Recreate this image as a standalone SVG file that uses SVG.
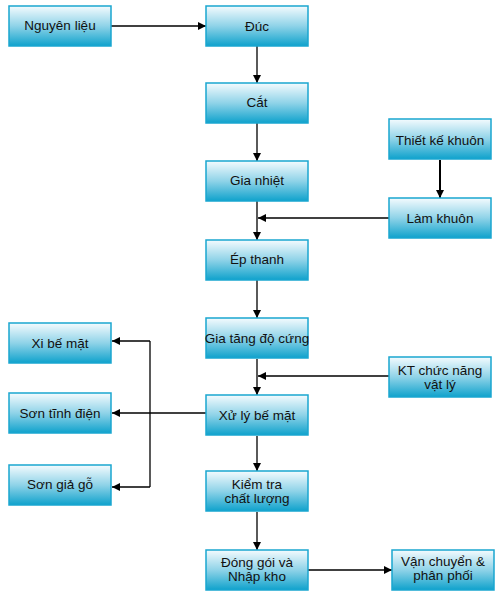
<svg xmlns="http://www.w3.org/2000/svg" width="500" height="602" viewBox="0 0 500 602">
<defs>
<linearGradient id="g" x1="0" y1="0" x2="0" y2="1">
<stop offset="0" stop-color="#f4fbfe"/>
<stop offset="0.5" stop-color="#8fd3e8"/>
<stop offset="1" stop-color="#0fa2cc"/>
</linearGradient>
<marker id="a" viewBox="0 0 8 8" refX="8" refY="4" markerWidth="8" markerHeight="8" markerUnits="userSpaceOnUse" orient="auto">
<path d="M0,0 L8,4 L0,8 Z" fill="#000"/>
</marker>
</defs>
<style>
.b{fill:url(#g);stroke:#1aa6d0;stroke-width:1.5}
.t{font-family:"Liberation Sans",Arial,sans-serif;font-size:13.5px;fill:#111;text-anchor:middle}
.c{stroke:#000;stroke-width:1.3;fill:none;marker-end:url(#a)}
.l{stroke:#000;stroke-width:1.3;fill:none}
</style>
<rect width="500" height="602" fill="#fff"/>
<g id="connectors">
<path class="c" d="M111,26 H206"/>
<path class="c" d="M257,46 V83"/>
<path class="c" d="M257,123 V161"/>
<path class="c" d="M257,201 V240"/>
<path class="c" d="M389,218 H258"/>
<path class="c" d="M440,160 V198" style="stroke-width:2"/>
<path class="c" d="M257,280 V318"/>
<path class="c" d="M257,359 V395"/>
<path class="c" d="M389,376 H258"/>
<path class="c" d="M257,436 V471"/>
<path class="c" d="M257,512 V550"/>
<path class="c" d="M308,570 H392"/>
<path class="c" d="M206,413 H112"/>
<path class="l" d="M150,341 V487"/>
<path class="c" d="M150,341 H112"/>
<path class="c" d="M150,487 H112"/>
</g>
<g id="n1"><rect class="b" x="9" y="6" width="102" height="40"/><text class="t" x="60" y="30">Nguyên liệu</text></g>
<g id="n2"><rect class="b" x="206" y="6" width="102" height="40"/><text class="t" x="257" y="31">Đúc</text></g>
<g id="n3"><rect class="b" x="206" y="83" width="102" height="40"/><text class="t" x="257" y="107">Cắt</text></g>
<g id="n4"><rect class="b" x="206" y="161" width="102" height="40"/><text class="t" x="257" y="185">Gia nhiệt</text></g>
<g id="n5"><rect class="b" x="389" y="119" width="102" height="40"/><text class="t" x="440" y="145">Thiết kế khuôn</text></g>
<g id="n6"><rect class="b" x="389" y="198" width="102" height="40"/><text class="t" x="440" y="223">Làm khuôn</text></g>
<g id="n7"><rect class="b" x="206" y="240" width="102" height="40"/><text class="t" x="257" y="264">Ép thanh</text></g>
<g id="n8"><rect class="b" x="206" y="318" width="102" height="40"/><text class="t" x="257" y="343">Gia tăng độ cứng</text></g>
<g id="n9"><rect class="b" x="389" y="357" width="102" height="40"/><text class="t" x="440" y="375">KT chức năng</text><text class="t" x="440" y="389">vật lý</text></g>
<g id="n10"><rect class="b" x="206" y="395" width="102" height="40"/><text class="t" x="257" y="420">Xử lý bế mặt</text></g>
<g id="n11"><rect class="b" x="9" y="323" width="102" height="40"/><text class="t" x="60" y="348">Xi bế mặt</text></g>
<g id="n12"><rect class="b" x="9" y="393" width="102" height="40"/><text class="t" x="60" y="418">Sơn tĩnh điện</text></g>
<g id="n13"><rect class="b" x="9" y="465" width="102" height="40"/><text class="t" x="60" y="489">Sơn giả gỗ</text></g>
<g id="n14"><rect class="b" x="206" y="471" width="102" height="40"/><text class="t" x="257" y="489">Kiểm tra</text><text class="t" x="257" y="503">chất lượng</text></g>
<g id="n15"><rect class="b" x="206" y="550" width="102" height="40"/><text class="t" x="257" y="567">Đóng gói và</text><text class="t" x="257" y="581">Nhập kho</text></g>
<g id="n16"><rect class="b" x="392" y="550" width="102" height="40"/><text class="t" x="443" y="566">Vận chuyển &amp;</text><text class="t" x="443" y="580">phân phối</text></g>
</svg>
